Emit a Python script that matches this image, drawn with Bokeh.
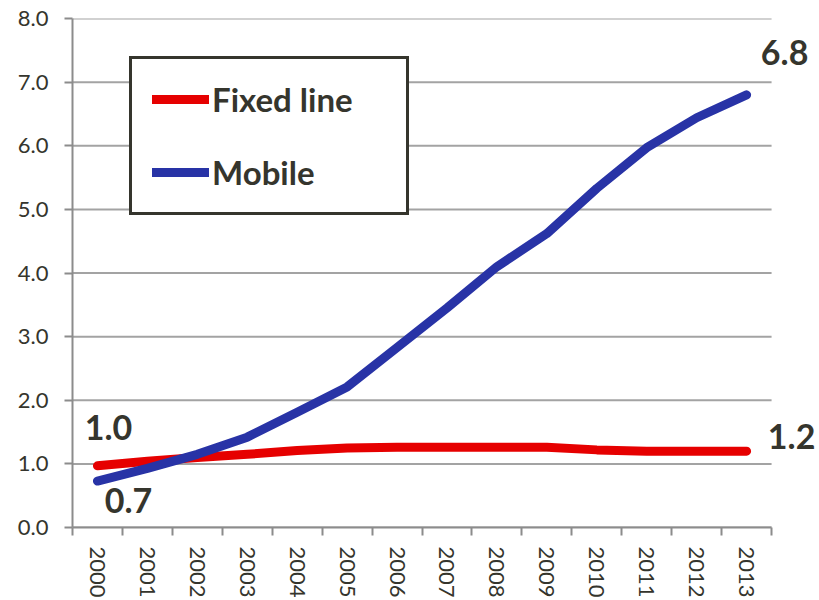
import math
from bokeh.plotting import figure
from bokeh.models import (ColumnDataSource, FixedTicker, NumeralTickFormatter,
                          Legend, LegendItem, Label, Range1d)
from bokeh.embed import file_html
from bokeh.resources import INLINE

years = [str(y) for y in range(2000, 2014)]
fixed_line = [0.97, 1.04, 1.10, 1.15, 1.21, 1.25, 1.26, 1.26, 1.26, 1.26, 1.22, 1.20, 1.20, 1.20]
mobile = [0.73, 0.93, 1.15, 1.42, 1.81, 2.21, 2.83, 3.45, 4.10, 4.62, 5.33, 5.97, 6.44, 6.80]
y_ticks = [0, 1, 2, 3, 4, 5, 6, 7, 8]

FONT = "Lato"
TXT = "#35352d"
GRID = "#a3a3a3"
AXIS = "#8c8c8c"
RED = "#e60000"
BLUE = "#2833a6"

n = len(years)
xs = [i + 0.5 for i in range(n)]

# frame extends to the right edge so that end labels are not clipped;
# the plotted area (axis + grid) stops at n
p = figure(width=819, height=600, output_backend="svg", toolbar_location=None,
           x_range=Range1d(0, n + 0.96), y_range=Range1d(0, 8),
           min_border_left=72, min_border_right=0, min_border_top=18, min_border_bottom=0)
p.outline_line_color = None
p.background_fill_color = "white"
p.border_fill_color = "white"

# grid (drawn as segments so it stops at the last category)
p.xgrid.grid_line_color = None
p.ygrid.grid_line_color = None
p.segment(x0=[0] * len(y_ticks), x1=[n] * len(y_ticks), y0=y_ticks, y1=y_ticks,
          line_color=GRID, line_width=2)

# y axis
p.yaxis.ticker = FixedTicker(ticks=y_ticks)
p.yaxis.formatter = NumeralTickFormatter(format="0.0")
p.yaxis.axis_line_color = AXIS
p.yaxis.axis_line_width = 2
p.yaxis.major_tick_line_color = AXIS
p.yaxis.major_tick_line_width = 2
p.yaxis.major_tick_out = 8
p.yaxis.major_tick_in = 0
p.yaxis.minor_tick_line_color = None
p.yaxis.major_label_standoff = 16
p.yaxis.major_label_text_font = FONT
p.yaxis.major_label_text_font_size = "22px"
p.yaxis.major_label_text_color = TXT

# x axis: labels at category centres, tick marks at boundaries
p.xaxis.ticker = FixedTicker(ticks=xs, minor_ticks=list(range(n + 1)))
p.xaxis.major_label_overrides = {x: y for x, y in zip(xs, years)}
p.xaxis.bounds = (0, n)
p.xaxis.axis_line_color = AXIS
p.xaxis.axis_line_width = 2
p.xaxis.major_tick_line_color = None
p.xaxis.major_tick_out = 0
p.xaxis.major_tick_in = 0
p.xaxis.minor_tick_line_color = AXIS
p.xaxis.minor_tick_line_width = 2
p.xaxis.minor_tick_out = 8
p.xaxis.minor_tick_in = 0
p.xaxis.major_label_orientation = -math.pi / 2
p.xaxis.major_label_standoff = 11
p.xaxis.major_label_text_font = FONT
p.xaxis.major_label_text_font_size = "22px"
p.xaxis.major_label_text_color = TXT

src = ColumnDataSource(dict(x=xs, fixed=fixed_line, mobile=mobile))
r_fixed = p.line("x", "fixed", source=src, line_color=RED, line_width=9,
                 line_cap="round", line_join="round")
r_mobile = p.line("x", "mobile", source=src, line_color=BLUE, line_width=9,
                  line_cap="round", line_join="round")

legend = Legend(items=[LegendItem(label="Fixed line", renderers=[r_fixed]),
                       LegendItem(label="Mobile", renderers=[r_mobile])],
                location=(57, 312))
legend.label_text_font = FONT
legend.label_text_font_style = "bold"
legend.label_text_font_size = "33px"
legend.label_text_color = TXT
legend.glyph_width = 57
legend.glyph_height = 30
legend.label_height = 30
legend.label_width = 174
legend.label_standoff = 3
legend.padding = 20
legend.spacing = 33
legend.margin = 0
legend.border_line_color = "#35352d"
legend.border_line_alpha = 1
legend.border_line_width = 3
legend.background_fill_color = "white"
legend.background_fill_alpha = 1
p.add_layout(legend, "center")

# end-point value labels
first, last = 0, n - 1
label_specs = [
    (xs[first], fixed_line[first], 11, 38),
    (xs[first], mobile[first], 31, -19),
    (xs[last], fixed_line[last], 45, 15),
    (xs[last], mobile[last], 38, 42),
]
for x, y, dx, dy in label_specs:
    p.add_layout(Label(x=x, y=y, x_offset=dx, y_offset=dy, text=f"{y:.1f}",
                       text_font=FONT, text_font_style="bold", text_font_size="34px",
                       text_color=TXT, text_align="center", text_baseline="middle"))

open("out.html", "w").write(file_html(p, INLINE))
